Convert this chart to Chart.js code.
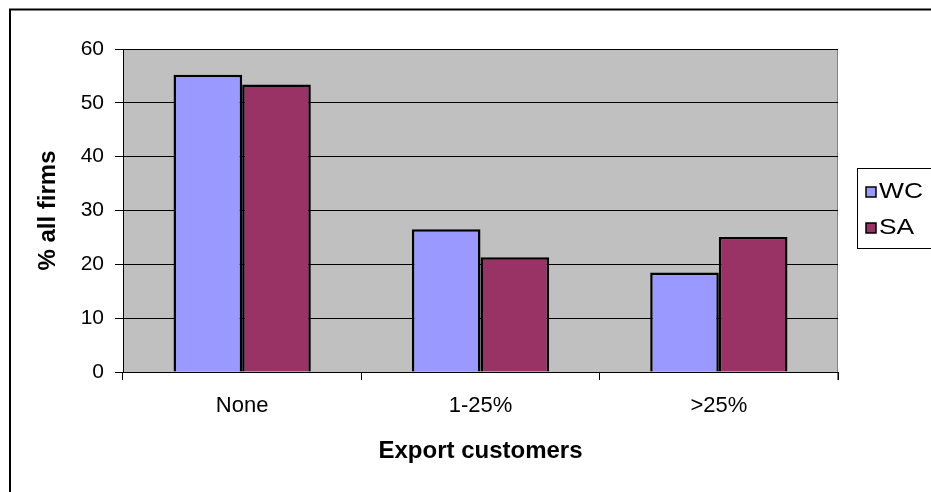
<!DOCTYPE html>
<html>
<head>
<meta charset="utf-8">
<title>Export customers</title>
<script src="https://cdn.jsdelivr.net/npm/chart.js@4.4.1/dist/chart.umd.min.js"></script>
<style>
body{
    margin:0;
    background:white;
}
</style>
</head>
<body>

<canvas id="exportChart" width="931" height="492"></canvas>

<script>

let categories = ["None", "1-25%", ">25%"];

let seriesNames = ["WC", "SA"];

let wcValues = [55.2, 26.5, 18.5];

let saValues = [53.4, 21.3, 25.1];

let yTicks = [0, 10, 20, 30, 40, 50, 60];

let fontName = "'Liberation Sans', Arial, sans-serif";

// grey plot area + outer frame + boxed legend, like the old excel chart
let framePlugin = {

    id:"frame",

    beforeDraw(chart){

        let ctx = chart.ctx;
        let a = chart.chartArea;

        ctx.save();

        ctx.fillStyle = "white";
        ctx.fillRect(0, 0, chart.width, chart.height);

        ctx.fillStyle = "#c0c0c0";
        ctx.fillRect(a.left, a.top, a.right - a.left, a.bottom - a.top);

        ctx.strokeStyle = "#808080";
        ctx.lineWidth = 1;
        ctx.beginPath();
        ctx.moveTo(a.left, a.top + 0.5);
        ctx.lineTo(a.right - 0.5, a.top + 0.5);
        ctx.lineTo(a.right - 0.5, a.bottom + 8);
        ctx.stroke();

        ctx.restore();

    },

    afterDraw(chart){

        let ctx = chart.ctx;

        ctx.save();

        // outer border, runs off the right and bottom edge
        ctx.strokeStyle = "black";
        ctx.lineWidth = 2;
        ctx.strokeRect(10, 9.5, 1000, 1000);

        // legend box
        ctx.lineWidth = 1;
        ctx.strokeStyle = "black";
        ctx.strokeRect(857.5, 168.5, 200, 80);

        ctx.font = "22px " + fontName;
        ctx.textBaseline = "middle";

        chart.data.datasets.forEach((ds, i) => {

            let y = 187 + i * 36;

            ctx.fillStyle = ds.backgroundColor;
            ctx.fillRect(866, y, 10, 10);
            ctx.lineWidth = 1.5;
            ctx.strokeRect(866, y, 10, 10);

            // excel text in the legend is drawn a bit wide
            ctx.save();
            ctx.translate(879, y + 5);
            ctx.scale(1.2, 1);
            ctx.fillStyle = "black";
            ctx.fillText(ds.label, 0, 0);
            ctx.restore();

        });

        ctx.restore();

    }

};

new Chart(

document.getElementById("exportChart"),

{

    type:"bar",

    data:{

        labels:categories,

        datasets:[

        {
            label:seriesNames[0],
            data:wcValues,
            backgroundColor:"#9999ff",
            borderColor:"black",
            borderWidth:2.5
        },

        {
            label:seriesNames[1],
            data:saValues,
            backgroundColor:"#993366",
            borderColor:"black",
            borderWidth:2.5
        }

        ]

    },

    options:{

        responsive:false,

        animation:false,

        layout:{
            padding:{top:49, right:93, left:0, bottom:0}
        },

        datasets:{
            bar:{
                categoryPercentage:0.576,
                barPercentage:1.0
            }
        },

        plugins:{
            legend:{display:false},
            tooltip:{enabled:false}
        },

        scales:{

            x:{

                offset:true,

                grid:{
                    offset:true,
                    drawOnChartArea:false,
                    drawTicks:true,
                    tickLength:8,
                    color:"black"
                },

                border:{
                    color:"black",
                    width:1
                },

                ticks:{
                    color:"black",
                    padding:13,
                    font:{family:fontName, size:22}
                },

                title:{
                    display:true,
                    text:"Export customers",
                    color:"black",
                    padding:{top:0, bottom:26},
                    font:{family:fontName, size:24, weight:"bold"}
                },

                afterFit(scale){
                    scale.height = 120;
                }

            },

            y:{

                min:0,

                max:60,

                afterBuildTicks(scale){
                    scale.ticks = yTicks.map(v => ({value:v}));
                },

                grid:{
                    color:"black",
                    lineWidth:1,
                    tickLength:8
                },

                border:{
                    color:"black",
                    width:1
                },

                ticks:{
                    color:"black",
                    padding:11,
                    font:{family:fontName, size:21}
                },

                title:{
                    display:true,
                    text:"% all firms",
                    color:"black",
                    padding:{top:34, bottom:0},
                    font:{family:fontName, size:24, weight:"bold"}
                },

                afterFit(scale){
                    scale.width = 123;
                }

            }

        }

    },

    plugins:[framePlugin]

});

</script>
</body>
</html>
